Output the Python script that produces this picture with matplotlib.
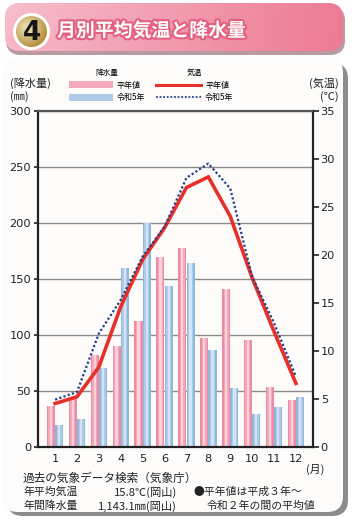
import numpy as np
import matplotlib
matplotlib.use('Agg')
import matplotlib.pyplot as plt
import matplotlib.patheffects as pe
from matplotlib.patches import FancyBboxPatch, Circle, Patch
from matplotlib.lines import Line2D

plt.rcParams['font.family'] = ['Noto Sans CJK JP', 'DejaVu Sans']

# data
months = np.arange(1, 13)
month_labels = [str(m) for m in months]
precip_normal = [36, 44, 82, 90, 112, 169, 177, 97, 141, 95, 53, 42]
precip_r5 = [19.5, 24.5, 70, 160, 200, 143.5, 164, 86, 52, 29, 35.5, 44]
temp_normal = [4.5, 5.2, 8.3, 14.6, 19.5, 22.8, 27.0, 28.1, 24.0, 17.6, 12.0, 6.6]
temp_r5 = [4.9, 5.7, 11.8, 15.3, 19.8, 22.9, 28.0, 29.5, 26.9, 17.7, 12.9, 7.3]
precip_ticks = [0, 50, 100, 150, 200, 250, 300]
temp_ticks = [0, 5, 10, 15, 20, 25, 30, 35]

W, H = 354, 523
fig = plt.figure(figsize=(W / 100, H / 100), dpi=100)
fig.patch.set_facecolor('white')

# background layer in pixel coordinates
bg = fig.add_axes([0, 0, 1, 1], zorder=0)
bg.set_xlim(0, W)
bg.set_ylim(H, 0)
bg.axis('off')

# card with shadow on right / bottom
bg.add_patch(FancyBboxPatch((7, 63), 341, 453, boxstyle='round,pad=0,rounding_size=16',
                            fc='#8c8c8c', ec='none'))
bg.add_patch(FancyBboxPatch((2, 57), 341, 455, boxstyle='round,pad=0,rounding_size=16',
                            fc='#fdfcfa', ec='none'))

# header band with gradient
bg.add_patch(FancyBboxPatch((6, 6), 339, 49, boxstyle='round,pad=0,rounding_size=15',
                            fc='#b89aa0', ec='none'))
hdr = FancyBboxPatch((5, 3), 338, 48, boxstyle='round,pad=0,rounding_size=15',
                     fc='none', ec='none')
bg.add_patch(hdr)
gx = np.linspace(0, 1, 200)
gy = np.linspace(0, 1, 40)[:, None]
c0 = np.array([247, 190, 204]) / 255
c1 = np.array([237, 123, 148]) / 255
grad = c0[None, None, :] * (1 - gx[None, :, None]) + c1[None, None, :] * gx[None, :, None]
grad = grad * (1 - 0.08 * gy[:, :, None]) + 0.08 * gy[:, :, None] * np.array([0.93, 0.45, 0.55])
grad = np.clip(np.broadcast_to(grad, (40, 200, 3)), 0, 1)
im = bg.imshow(grad, extent=[5, 343, 51, 3], aspect='auto', zorder=2)
im.set_clip_path(hdr)

# number badge
bg.add_patch(Circle((31.5, 31.5), 18.5, fc='white', ec='none', zorder=3))
badge = Circle((31.5, 31.5), 15.5, fc='none', ec='none', zorder=3)
bg.add_patch(badge)
yy, xx = np.mgrid[-1:1:80j, -1:1:80j]
rr = np.clip(np.sqrt((xx + 0.25) ** 2 + (yy + 0.25) ** 2) / 1.3, 0, 1)[:, :, None]
gold = np.array([245, 232, 190]) / 255 * (1 - rr) + np.array([178, 142, 62]) / 255 * rr
gim = bg.imshow(gold, extent=[16, 47, 47, 16], zorder=4)
gim.set_clip_path(badge)
bg.text(31.5, 33, '4', ha='center', va='center', fontsize=19, fontweight='bold',
        color='#161616', family='DejaVu Sans', zorder=5)
bg.text(57, 31, '月別平均気温と降水量', ha='left', va='center', fontsize=13.6,
        fontweight='bold', color='white', zorder=5,
        path_effects=[pe.withStroke(linewidth=3, foreground='#e5607e')])

# main chart
ax = fig.add_axes([38 / W, 1 - 446.7 / H, 275 / W, 336 / H], zorder=2)
ax.set_facecolor('#fdfcfa')
bw = 0.37
off = 0.19
pink = ['#ef8aa3', '#f5a8ba', '#fbd2dc']
blue = ['#8fb8df', '#aecbe9', '#d3e5f5']
for k, frac in enumerate([1.0, 0.62, 0.28]):
    ax.bar(months - off, precip_normal, width=bw * frac, color=pink[k], zorder=2 + k * 0.1,
           linewidth=0)
    ax.bar(months + off, precip_r5, width=bw * frac, color=blue[k], zorder=2 + k * 0.1,
           linewidth=0)
ax.set_xlim(0.22, 12.78)
ax.set_ylim(0, 300)
ax.set_yticks(precip_ticks)
ax.set_xticks(months)
ax.set_xticklabels(month_labels, family='DejaVu Sans', fontsize=8.2, color='#222')
ax.tick_params(axis='x', length=0, pad=5)
ax.tick_params(axis='y', length=3, width=1.2, pad=2, labelsize=8.2, colors='#222')
for t in ax.get_yticklabels():
    t.set_family('DejaVu Sans')
ax.grid(axis='y', color='#8a8a8a', lw=1.0, zorder=1)
ax.set_axisbelow(True)
for s in ['left', 'bottom', 'right', 'top']:
    ax.spines[s].set_color('#222')
    ax.spines[s].set_linewidth(1.6)
ax.spines['top'].set_color('#555')

ax2 = ax.twinx()
ax2.set_zorder(3)
ax2.patch.set_visible(False)
ax2.plot(months, temp_normal, color='#e8302a', lw=2.6, solid_joinstyle='miter', zorder=4)
ax2.plot(months, temp_r5, color='#233f8c', lw=1.6, linestyle=(0, (1, 1)), zorder=5)
ax2.set_ylim(0, 35)
ax2.set_yticks(temp_ticks)
ax2.tick_params(axis='y', length=4, width=1.2, pad=1.5, labelsize=8.2, colors='#222')
for t in ax2.get_yticklabels():
    t.set_family('DejaVu Sans')
for s in ax2.spines.values():
    s.set_visible(False)

# legends
h1 = [Patch(fc=pink[1], ec='none'), Patch(fc=blue[1], ec='none')]
leg1 = fig.legend(h1, ['平年値', '令和5年'], title='降水量', loc='upper left',
                  bbox_to_anchor=(69 / W, 1 - 69 / H), frameon=False, fontsize=5.8,
                  title_fontsize=5.5, handlelength=5.4, handleheight=1.0,
                  handletextpad=0.5, labelspacing=0.45, borderpad=0, borderaxespad=0)
h2 = [Line2D([], [], color='#e8302a', lw=2.2),
      Line2D([], [], color='#233f8c', lw=1.3, linestyle=(0, (1, 1)))]
leg2 = fig.legend(h2, ['平年値', '令和5年'], title='気温', loc='upper left',
                  bbox_to_anchor=(156 / W, 1 - 69 / H), frameon=False, fontsize=5.8,
                  title_fontsize=5.5, handlelength=5.6, handletextpad=0.5,
                  labelspacing=0.45, borderpad=0, borderaxespad=0)

# axis captions
fig.text(10 / W, 1 - 83 / H, '(降水量)', fontsize=8, va='center', color='#222')
fig.text(10 / W, 1 - 97 / H, '(㎜)', fontsize=8, va='center', color='#222')
fig.text(339 / W, 1 - 83 / H, '(気温)', fontsize=8, va='center', ha='right', color='#222')
fig.text(339 / W, 1 - 97 / H, '(℃)', fontsize=8, va='center', ha='right', color='#222')
fig.text(315 / W, 1 - 469 / H, '(月)', fontsize=7.8, va='center', ha='center', color='#222')

# footer notes
fig.text(23 / W, 1 - 478 / H, '過去の気象データ検索（気象庁）', fontsize=8.4, va='center', color='#222')
fig.text(23 / W, 1 - 492 / H, '年平均気温', fontsize=7.8, va='center', color='#222')
fig.text(23 / W, 1 - 506 / H, '年間降水量', fontsize=7.8, va='center', color='#222')
fig.text(177 / W, 1 - 492 / H, '15.8℃(岡山)', fontsize=8.1, va='center', ha='right', color='#222')
fig.text(177 / W, 1 - 506 / H, '1,143.1㎜(岡山)', fontsize=8.1, va='center', ha='right', color='#222')
fig.text(193 / W, 1 - 492 / H, '●平年値は平成３年～', fontsize=7.8, va='center', color='#222')
fig.text(207 / W, 1 - 506 / H, '令和２年の間の平均値', fontsize=7.8, va='center', color='#222')

fig.savefig('out.png', dpi=100)
